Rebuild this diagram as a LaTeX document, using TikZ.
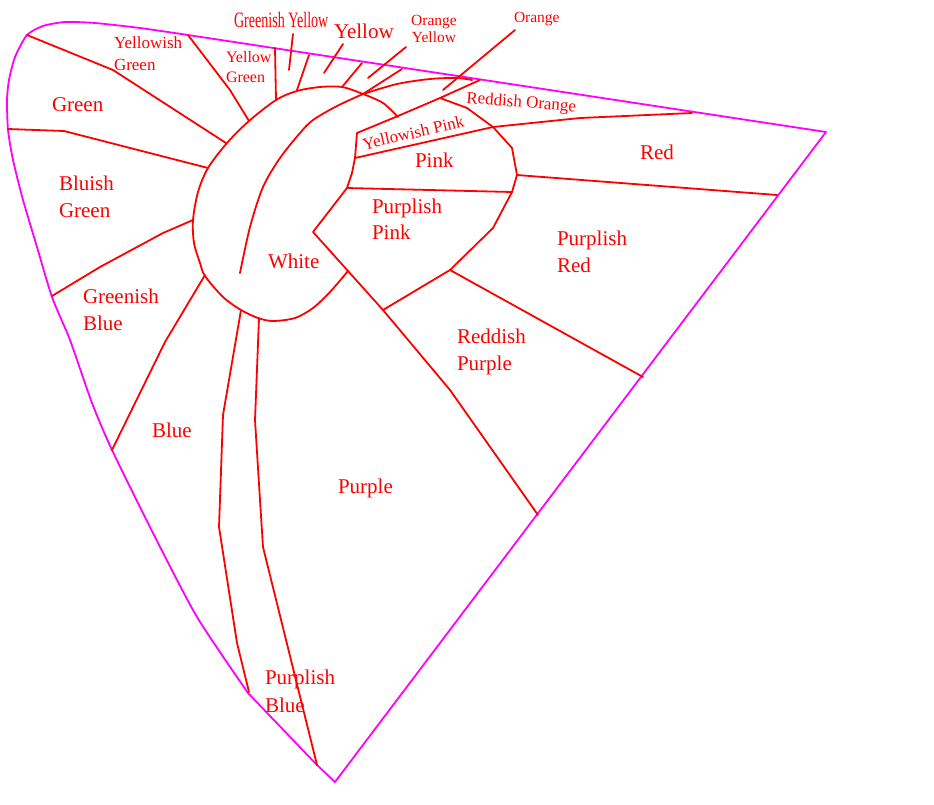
\documentclass[tikz,border=0pt]{standalone}
\usepackage{fontspec}
\setmainfont{Liberation Serif}
\usepackage{graphicx}
\definecolor{gamut}{RGB}{255,0,255}
\definecolor{zone}{RGB}{255,0,0}
\begin{document}
\begin{tikzpicture}[x=1pt,y=-1pt,
  redline/.style={draw=zone, line width=1.8pt, line join=round, line cap=round},
  magline/.style={draw=gamut, line width=1.8pt, line join=round},
  lbl/.style={text=zone, inner sep=0pt, outer sep=0pt},
  big/.style={lbl, font=\fontsize{21}{27}\selectfont},
  mid/.style={lbl, font=\fontsize{17}{22}\selectfont},
  small/.style={lbl, font=\fontsize{15.5}{17}\selectfont}]
\useasboundingbox (0,0) rectangle (934,804);
\fill[white] (0,0) rectangle (934,804);
% gamut boundary
\draw[magline] plot[smooth, tension=0.4] coordinates {(248,693) (197,617) (153,533) (112,450) (92,403) (70,340) (52,297) (37,247) (23,200) (13,160) (8,130) (7,100) (9,80) (15,57) (27,35) (43,26) (65,22) (95,23) (140,28) (188,35)}
  -- (826,132) -- (335,782) -- (317,765) -- (248,693);
% White region outer curve
\draw[redline] plot[smooth, tension=0.5] coordinates {(398,117) (383,103) (363,94) (342,87) (320,87) (297,91) (276,100) (249,121) (227,143) (208,168) (198,192) (193,220) (194,243) (200,263) (205,276) (223,297) (241,310) (258,318) (273,321) (295,318) (313,308) (330,292) (348,271)};
% inner curve of white
\draw[redline] (402,69) -- (363,94) -- plot[smooth, tension=0.5] coordinates {(363,94) (337,106) (313,120) (300,133) (280,158) (263,187) (250,227) (240,273)};
% orange arc
\draw[redline] plot[smooth, tension=0.5] coordinates {(363,94) (397,84) (430,79) (457,78) (472,80)};
% yellowish pink top
\draw[redline] (357,133) -- (398,116) -- (440,98) -- (480,80);
% yellowish pink bottom / red upper
\draw[redline] (355,158) -- (493,127) -- (580,118) -- (692,113);
% white right boundary and purple / reddish purple
\draw[redline] (357,133) -- (355,158) -- (352,173) -- (347,188) -- (313,232) -- (348,271) -- (383,310) -- (450,390) -- (538,515);
% pink / purplish pink
\draw[redline] (347,188) -- (512,192);
% heart curve
\draw[redline] (440,98) -- (467,108) -- (493,127) -- (512,148) -- (517,175) -- (512,192) -- (493,228) -- (450,270) -- (383,310);
% red / purplish red
\draw[redline] (517,175) -- (777,195);
% purplish red / reddish purple
\draw[redline] (450,270) -- (643,377);
% left side boundaries
\draw[redline] (27,35) -- (113,70) -- (226,143);
\draw[redline] (8,129) -- (64,131) -- (208,168);
\draw[redline] (188,35) -- (230,90) -- (249,121);
\draw[redline] (275,48) -- (276,100);
\draw[redline] (309,55) -- (297,90);
\draw[redline] (362,63) -- (342,87);
\draw[redline] (193,220) -- (163,233) -- (100,267) -- (52,296);
\draw[redline] (205,275) -- (165,342) -- (112,450);
\draw[redline] (241,310) -- (223,415) -- (219,527) -- (237,643) -- (249,692);
\draw[redline] (259,318) -- (255,420) -- (260,500) -- (263,547) -- (317,765);
% pointers
\draw[redline] (293,34) -- (289,70);
\draw[redline] (343,44) -- (324,73);
\draw[redline] (406,47) -- (368,78);
\draw[redline] (515,30) -- (443,90);
% labels
\node[mid, anchor=north west, align=left] (lYG) at (114,36.4) {Yellowish\\Green};
\node[big, anchor=base west] (lGreen) at (52,111) {Green};
\node[big, anchor=north west, align=left] (lBG) at (59,175.7) {Bluish\\Green};
\node[big, anchor=north west, align=left] (lGB) at (83,288.7) {Greenish\\Blue};
\node[big, anchor=base west] (lBlue) at (152,437) {Blue};
\node[big, anchor=base west] (lWhite) at (268,268) {White};
\node[big, anchor=base west] (lPurple) at (338,493) {Purple};
\node[big, anchor=north west, align=left, font=\fontsize{21}{28}\selectfont] (lPB) at (265,669.7) {Purplish\\Blue};
\node[big, anchor=north west, align=left, font=\fontsize{21}{26}\selectfont] (lPP) at (372,198.7) {Purplish\\Pink};
\node[big, anchor=north west, align=left] (lPR) at (557,230.7) {Purplish\\Red};
\node[big, anchor=north west, align=left] (lRP) at (457,328.7) {Reddish\\Purple};
\node[big, anchor=base west] (lPink) at (415,167) {Pink};
\node[big, anchor=base west] (lRed) at (640,159) {Red};
\node[big, anchor=base west] (lYellow) at (334,38) {Yellow};
\node[lbl, anchor=north west, align=left, font=\fontsize{16}{20}\selectfont] (lYGr) at (226,51) {Yellow\\Green};
\node[lbl, anchor=base west, font=\fontsize{22}{24}\selectfont] (lGY) at (234,27) {\scalebox{0.64}[1]{Greenish Yellow}};
\node[small, anchor=north, align=center] (lOY) at (434,15) {Orange\\Yellow};
\node[small, anchor=base west] (lOrange) at (514,22) {Orange};
\node[mid, anchor=base west, rotate=-4.5] (lRO) at (466,103) {Reddish Orange};
\node[mid, anchor=base west, rotate=13] (lYP) at (364,150) {Yellowish Pink};
\end{tikzpicture}
\end{document}
